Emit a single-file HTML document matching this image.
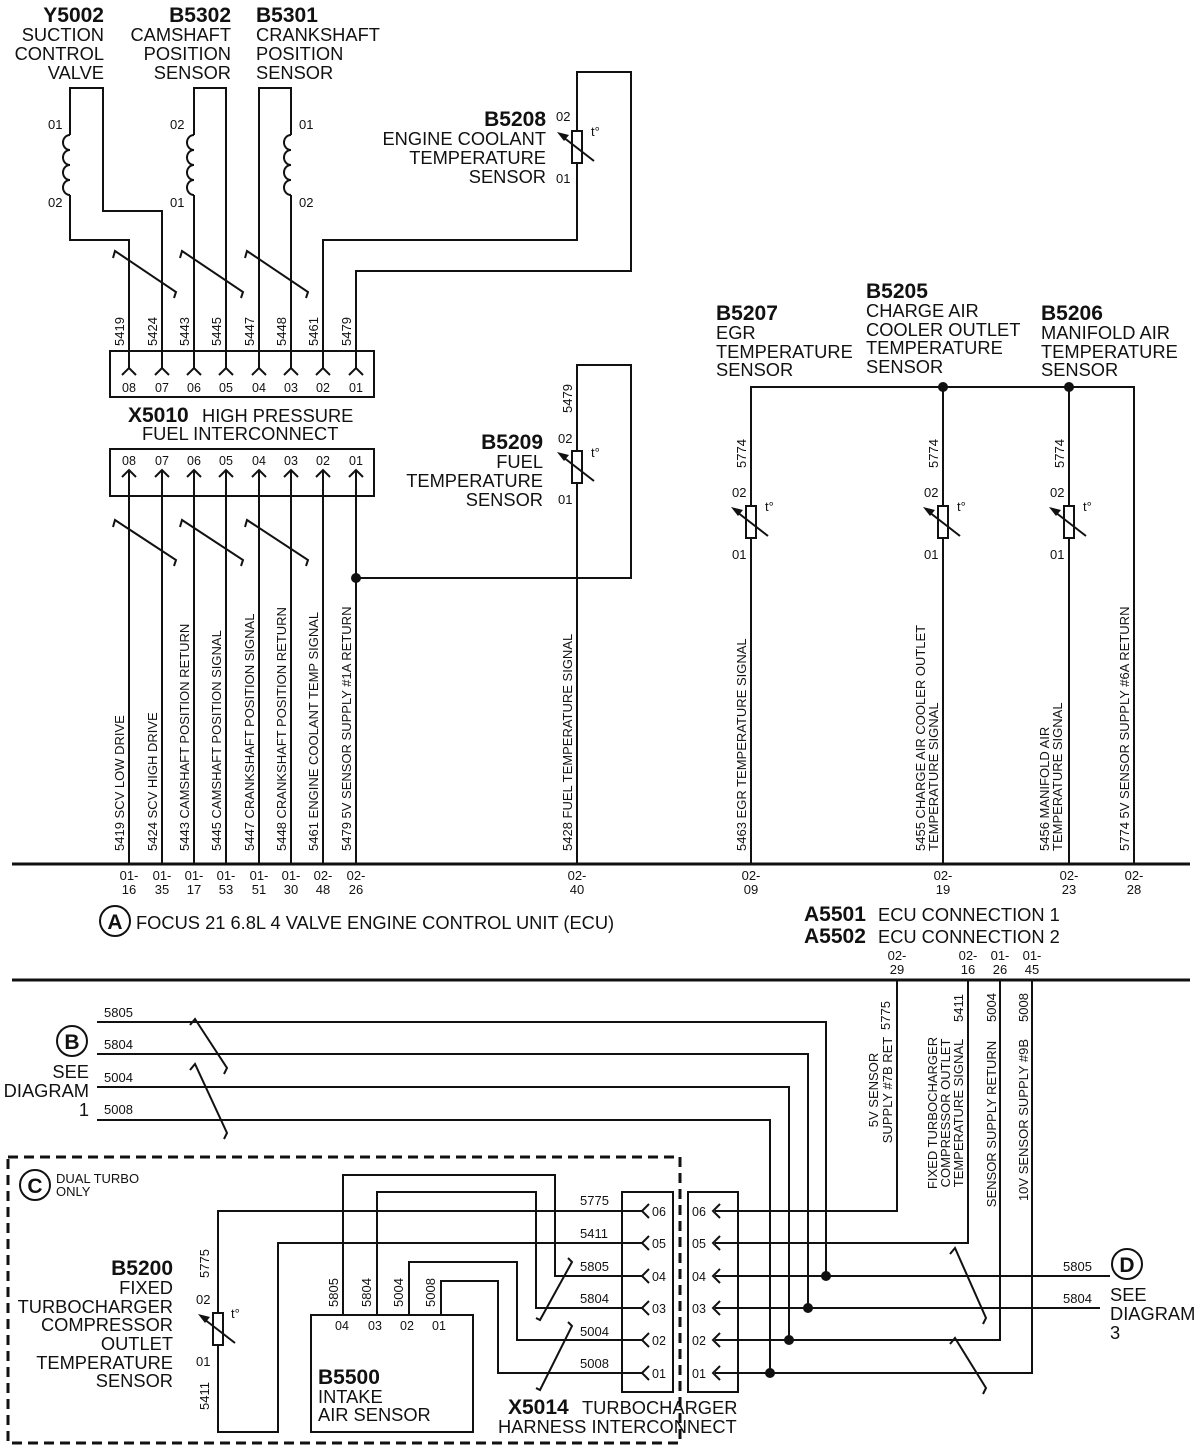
<!DOCTYPE html>
<html><head><meta charset="utf-8"><style>
html,body{margin:0;padding:0;background:#fff}
svg{display:block}
text{font-family:"Liberation Sans",sans-serif;fill:#111}
.b{font-weight:bold;font-size:21px}
.l{font-size:18.3px}
.s{font-size:13px}
.p{font-size:12.5px}
</style></head><body>
<svg width="1200" height="1450" viewBox="0 0 1200 1450" xmlns="http://www.w3.org/2000/svg">
<defs>
<g id="res">
<rect x="-5" y="-16" width="10" height="32" fill="#fff" stroke="#111" stroke-width="2"/>
<line x1="17" y1="14" x2="-14" y2="-10" stroke="#111" stroke-width="2"/>
<polygon points="-20,-15 -8,-12 -13,-6" fill="#111"/>
</g>
<g id="fork"><polyline points="-7,7 0,0 7,7" fill="none" stroke="#111" stroke-width="2"/></g>
<g id="up"><polyline points="-7,7 0,0 7,7" fill="none" stroke="#111" stroke-width="2"/></g>
<g id="lt"><polyline points="7,-7 0,0 7,7" fill="none" stroke="#111" stroke-width="2"/></g>
</defs>
<g fill="none" stroke="#111" stroke-width="2">
<path d="M70 135 V88 H103 V211 H162 V368"/>
<path d="M70 195 V240 H129 V368"/>
<path d="M194 135 V88 H226 V368"/>
<path d="M194 195 V368"/>
<path d="M291 135 V88 H259 V368"/>
<path d="M291 195 V368"/>
<path d="M323 368 V240 H577 V72 H631 V271 H356 V368"/>
<path d="M70 135 a7 7.5 0 0 0 0 15 a7 7.5 0 0 0 0 15 a7 7.5 0 0 0 0 15 a7 7.5 0 0 0 0 15"/>
<path d="M194 135 a7 7.5 0 0 0 0 15 a7 7.5 0 0 0 0 15 a7 7.5 0 0 0 0 15 a7 7.5 0 0 0 0 15"/>
<path d="M291 135 a7 7.5 0 0 0 0 15 a7 7.5 0 0 0 0 15 a7 7.5 0 0 0 0 15 a7 7.5 0 0 0 0 15"/>
<polyline points="113,258 115,251 176,292 174,298"/>
<polyline points="180,258 182,251 243,292 241,298"/>
<polyline points="245,258 247,251 308,292 306,298"/>
<rect x="110" y="351" width="264" height="46"/>
<rect x="110" y="449" width="264" height="47"/>
<path d="M129 470 V864 M162 470 V864 M194 470 V864 M226 470 V864 M259 470 V864 M291 470 V864 M323 470 V864 M356 470 V864"/>
<path d="M356 578 H631 V365 H577 V864"/>
<polyline points="113,527 115,520 176,560 174,566"/>
<polyline points="180,527 182,520 243,560 241,566"/>
<polyline points="245,527 247,520 308,560 306,566"/>
<path d="M751 864 V387 H1134 V864 M943 387 V864 M1069 387 V864"/>
<path d="M12 864 H1190 M12 980 H1190" stroke-width="3"/>
<path d="M97 1022 H826 V1276 M97 1054 H808 V1308 M97 1087 H789 V1340 M97 1120 H770 V1373"/>
<path d="M897 980 V1211 H715 M968 980 V1243 H715 M1000 980 V1340 H715 M1032 980 V1373 H715"/>
<path d="M715 1276 H1110 M715 1308 H1100"/>
<polyline points="190,1025 195,1019 227,1068 224,1074"/>
<polyline points="190,1070 195,1064 227,1133 224,1139"/>
<polyline points="950,1254 955,1248 986,1318 983,1324"/>
<polyline points="950,1344 955,1338 986,1388 983,1394"/>
<rect x="622" y="1192" width="51" height="200"/>
<rect x="688" y="1192" width="50" height="200"/>
<path d="M642 1211 H218 V1313 M218 1345 V1432 H278 V1243 H642"/>
<path d="M642 1276 H555 V1175 H343 V1315 M642 1308 H536 V1192 H377 V1315 M642 1340 H517 V1262 H409 V1315 M642 1373 H498 V1281 H441 V1315"/>
<polyline points="568,1258 572,1262 540,1320 536,1318"/>
<polyline points="568,1322 572,1326 540,1390 536,1388"/>
<rect x="311" y="1315" width="162" height="117"/>
<path d="M8 1157 H680 V1443 H8 Z" stroke-width="3" stroke-dasharray="10,6"/>
<circle cx="115" cy="921" r="15"/>
<circle cx="72" cy="1041" r="15"/>
<circle cx="35" cy="1185" r="15"/>
<circle cx="1127" cy="1264" r="15"/>
</g>
<use href="#fork" x="129" y="368"/><use href="#fork" x="162" y="368"/><use href="#fork" x="194" y="368"/><use href="#fork" x="226" y="368"/><use href="#fork" x="259" y="368"/><use href="#fork" x="291" y="368"/><use href="#fork" x="323" y="368"/><use href="#fork" x="356" y="368"/>
<use href="#up" x="129" y="470"/><use href="#up" x="162" y="470"/><use href="#up" x="194" y="470"/><use href="#up" x="226" y="470"/><use href="#up" x="259" y="470"/><use href="#up" x="291" y="470"/><use href="#up" x="323" y="470"/><use href="#up" x="356" y="470"/>
<use href="#lt" x="642" y="1211"/><use href="#lt" x="642" y="1243"/><use href="#lt" x="642" y="1276"/><use href="#lt" x="642" y="1308"/><use href="#lt" x="642" y="1340"/><use href="#lt" x="642" y="1373"/>
<use href="#lt" x="713" y="1211"/><use href="#lt" x="713" y="1243"/><use href="#lt" x="713" y="1276"/><use href="#lt" x="713" y="1308"/><use href="#lt" x="713" y="1340"/><use href="#lt" x="713" y="1373"/>
<use href="#res" x="577" y="147"/><use href="#res" x="577" y="467"/>
<use href="#res" x="751" y="522"/><use href="#res" x="943" y="522"/><use href="#res" x="1069" y="522"/>
<use href="#res" x="218" y="1329"/>
<g fill="#111"><circle cx="356" cy="578" r="5"/><circle cx="943" cy="387" r="5"/><circle cx="1069" cy="387" r="5"/>
<circle cx="826" cy="1276" r="5"/><circle cx="808" cy="1308" r="5"/><circle cx="789" cy="1340" r="5"/><circle cx="770" cy="1373" r="5"/></g>

<g text-anchor="end"><text x="104" y="22" class="b">Y5002</text><text x="104" y="41" class="l">SUCTION</text><text x="104" y="60" class="l">CONTROL</text><text x="104" y="79" class="l">VALVE</text>
<text x="231" y="22" class="b">B5302</text><text x="231" y="41" class="l">CAMSHAFT</text><text x="231" y="60" class="l">POSITION</text><text x="231" y="79" class="l">SENSOR</text></g>
<text x="256" y="22" class="b">B5301</text><text x="256" y="41" class="l">CRANKSHAFT</text><text x="256" y="60" class="l">POSITION</text><text x="256" y="79" class="l">SENSOR</text>
<g class="s"><text x="48" y="129">01</text><text x="48" y="207">02</text><text x="170" y="129">02</text><text x="170" y="207">01</text><text x="299" y="129">01</text><text x="299" y="207">02</text></g>
<g text-anchor="end"><text x="546" y="126" class="b">B5208</text><text x="546" y="145" class="l">ENGINE COOLANT</text><text x="546" y="164" class="l">TEMPERATURE</text><text x="546" y="183" class="l">SENSOR</text>
<text x="543" y="449" class="b">B5209</text><text x="543" y="468" class="l">FUEL</text><text x="543" y="487" class="l">TEMPERATURE</text><text x="543" y="506" class="l">SENSOR</text></g>
<g class="s"><text x="556" y="121">02</text><text x="556" y="183">01</text><text x="558" y="443">02</text><text x="558" y="504">01</text>
<text x="591" y="136">t°</text><text x="591" y="457">t°</text><text x="765" y="511">t°</text><text x="957" y="511">t°</text><text x="1083" y="511">t°</text><text x="231" y="1318">t°</text></g>
<g class="s">
<text transform="translate(124,346) rotate(-90)">5419</text><text transform="translate(157,346) rotate(-90)">5424</text><text transform="translate(189,346) rotate(-90)">5443</text><text transform="translate(221,346) rotate(-90)">5445</text><text transform="translate(254,346) rotate(-90)">5447</text><text transform="translate(286,346) rotate(-90)">5448</text><text transform="translate(318,346) rotate(-90)">5461</text><text transform="translate(351,346) rotate(-90)">5479</text>
<text transform="translate(572,413) rotate(-90)">5479</text>
</g>
<g class="p" text-anchor="middle"><text x="129" y="392">08</text><text x="162" y="392">07</text><text x="194" y="392">06</text><text x="226" y="392">05</text><text x="259" y="392">04</text><text x="291" y="392">03</text><text x="323" y="392">02</text><text x="356" y="392">01</text>
<text x="129" y="465">08</text><text x="162" y="465">07</text><text x="194" y="465">06</text><text x="226" y="465">05</text><text x="259" y="465">04</text><text x="291" y="465">03</text><text x="323" y="465">02</text><text x="356" y="465">01</text></g>
<text x="128" y="422" class="b">X5010</text><text x="202" y="422" class="l">HIGH PRESSURE</text>
<text x="142" y="440" class="l">FUEL INTERCONNECT</text>
<g class="s">
<text transform="translate(124,851) rotate(-90)">5419 SCV LOW DRIVE</text>
<text transform="translate(157,851) rotate(-90)">5424 SCV HIGH DRIVE</text>
<text transform="translate(189,851) rotate(-90)">5443 CAMSHAFT POSITION RETURN</text>
<text transform="translate(221,851) rotate(-90)">5445 CAMSHAFT POSITION SIGNAL</text>
<text transform="translate(254,851) rotate(-90)">5447 CRANKSHAFT POSITION SIGNAL</text>
<text transform="translate(286,851) rotate(-90)">5448 CRANKSHAFT POSITION RETURN</text>
<text transform="translate(318,851) rotate(-90)">5461 ENGINE COOLANT TEMP SIGNAL</text>
<text transform="translate(351,851) rotate(-90)">5479 5V SENSOR SUPPLY #1A RETURN</text>
<text transform="translate(572,851) rotate(-90)">5428 FUEL TEMPERATURE SIGNAL</text>
<text transform="translate(746,851) rotate(-90)">5463 EGR TEMPERATURE SIGNAL</text>
<text transform="translate(925,851) rotate(-90)">5455 CHARGE AIR COOLER OUTLET</text>
<text transform="translate(938,851) rotate(-90)">TEMPERATURE SIGNAL</text>
<text transform="translate(1049,851) rotate(-90)">5456 MANIFOLD AIR</text>
<text transform="translate(1062,851) rotate(-90)">TEMPERATURE SIGNAL</text>
<text transform="translate(1129,851) rotate(-90)">5774 5V SENSOR SUPPLY #6A RETURN</text>
<text transform="translate(746,468) rotate(-90)">5774</text><text transform="translate(938,468) rotate(-90)">5774</text><text transform="translate(1064,468) rotate(-90)">5774</text>
</g>
<g class="s"><text x="732" y="497">02</text><text x="732" y="559">01</text><text x="924" y="497">02</text><text x="924" y="559">01</text><text x="1050" y="497">02</text><text x="1050" y="559">01</text></g>
<text x="716" y="320" class="b">B5207</text><text x="716" y="339" class="l">EGR</text><text x="716" y="358" class="l">TEMPERATURE</text><text x="716" y="376" class="l">SENSOR</text>
<text x="866" y="298" class="b">B5205</text><text x="866" y="317" class="l">CHARGE AIR</text><text x="866" y="336" class="l">COOLER OUTLET</text><text x="866" y="354" class="l">TEMPERATURE</text><text x="866" y="373" class="l">SENSOR</text>
<text x="1041" y="320" class="b">B5206</text><text x="1041" y="339" class="l">MANIFOLD AIR</text><text x="1041" y="358" class="l">TEMPERATURE</text><text x="1041" y="376" class="l">SENSOR</text>
<g class="s" text-anchor="middle">
<text x="129" y="880">01-</text><text x="129" y="894">16</text><text x="162" y="880">01-</text><text x="162" y="894">35</text><text x="194" y="880">01-</text><text x="194" y="894">17</text><text x="226" y="880">01-</text><text x="226" y="894">53</text><text x="259" y="880">01-</text><text x="259" y="894">51</text><text x="291" y="880">01-</text><text x="291" y="894">30</text><text x="323" y="880">02-</text><text x="323" y="894">48</text><text x="356" y="880">02-</text><text x="356" y="894">26</text>
<text x="577" y="880">02-</text><text x="577" y="894">40</text><text x="751" y="880">02-</text><text x="751" y="894">09</text><text x="943" y="880">02-</text><text x="943" y="894">19</text><text x="1069" y="880">02-</text><text x="1069" y="894">23</text><text x="1134" y="880">02-</text><text x="1134" y="894">28</text>
<text x="897" y="960">02-</text><text x="897" y="974">29</text><text x="968" y="960">02-</text><text x="968" y="974">16</text><text x="1000" y="960">01-</text><text x="1000" y="974">26</text><text x="1032" y="960">01-</text><text x="1032" y="974">45</text>
</g>
<text x="115" y="929" class="b" text-anchor="middle">A</text>
<text x="136" y="929" class="l">FOCUS 21 6.8L 4 VALVE ENGINE CONTROL UNIT (ECU)</text>
<text x="804" y="921" class="b">A5501</text><text x="878" y="921" class="l">ECU CONNECTION 1</text>
<text x="804" y="943" class="b">A5502</text><text x="878" y="943" class="l">ECU CONNECTION 2</text>
<g class="s"><text x="104" y="1017">5805</text><text x="104" y="1049">5804</text><text x="104" y="1082">5004</text><text x="104" y="1114">5008</text>
<text x="580" y="1205">5775</text><text x="580" y="1238">5411</text><text x="580" y="1271">5805</text><text x="580" y="1303">5804</text><text x="580" y="1336">5004</text><text x="580" y="1368">5008</text>
<text x="1063" y="1271">5805</text><text x="1063" y="1303">5804</text></g>
<g class="p"><text x="652" y="1216">06</text><text x="652" y="1248">05</text><text x="652" y="1281">04</text><text x="652" y="1313">03</text><text x="652" y="1345">02</text><text x="652" y="1378">01</text>
<text x="692" y="1216">06</text><text x="692" y="1248">05</text><text x="692" y="1281">04</text><text x="692" y="1313">03</text><text x="692" y="1345">02</text><text x="692" y="1378">01</text>
<text x="335" y="1330">04</text><text x="368" y="1330">03</text><text x="400" y="1330">02</text><text x="432" y="1330">01</text></g>
<text x="72" y="1049" class="b" text-anchor="middle">B</text>
<g text-anchor="end" class="l"><text x="89" y="1078">SEE</text><text x="89" y="1097">DIAGRAM</text><text x="89" y="1116">1</text></g>
<text x="35" y="1193" class="b" text-anchor="middle">C</text>
<text x="56" y="1183" class="s">DUAL TURBO</text><text x="56" y="1196" class="s">ONLY</text>
<text x="1127" y="1272" class="b" text-anchor="middle">D</text>
<text x="1110" y="1301" class="l">SEE</text><text x="1110" y="1320" class="l">DIAGRAM</text><text x="1110" y="1339" class="l">3</text>
<g text-anchor="end"><text x="173" y="1275" class="b">B5200</text><text x="173" y="1294" class="l">FIXED</text><text x="173" y="1313" class="l">TURBOCHARGER</text><text x="173" y="1331" class="l">COMPRESSOR</text><text x="173" y="1350" class="l">OUTLET</text><text x="173" y="1369" class="l">TEMPERATURE</text><text x="173" y="1387" class="l">SENSOR</text></g>
<g class="s"><text x="196" y="1304">02</text><text x="196" y="1366">01</text>
<text transform="translate(209,1278) rotate(-90)">5775</text><text transform="translate(209,1410) rotate(-90)">5411</text>
<text transform="translate(338,1307) rotate(-90)">5805</text><text transform="translate(371,1307) rotate(-90)">5804</text><text transform="translate(403,1307) rotate(-90)">5004</text><text transform="translate(435,1307) rotate(-90)">5008</text>
<text transform="translate(890,1030) rotate(-90)">5775</text><text transform="translate(963,1022) rotate(-90)">5411</text><text transform="translate(996,1022) rotate(-90)">5004</text><text transform="translate(1028,1022) rotate(-90)">5008</text>
</g>
<g class="s" text-anchor="middle">
<text transform="translate(878,1090) rotate(-90)">5V SENSOR</text><text transform="translate(892,1090) rotate(-90)">SUPPLY #7B RET</text>
<text transform="translate(937,1113) rotate(-90)">FIXED TURBOCHARGER</text><text transform="translate(950,1113) rotate(-90)">COMPRESSOR OUTLET</text><text transform="translate(963,1113) rotate(-90)">TEMPERATURE SIGNAL</text>
<text transform="translate(996,1124) rotate(-90)">SENSOR SUPPLY RETURN</text><text transform="translate(1028,1120) rotate(-90)">10V SENSOR SUPPLY #9B</text>
</g>
<text x="318" y="1384" class="b">B5500</text><text x="318" y="1403" class="l">INTAKE</text><text x="318" y="1421" class="l">AIR SENSOR</text>
<text x="508" y="1414" class="b">X5014</text><text x="582" y="1414" class="l">TURBOCHARGER</text>
<text x="498" y="1433" class="l">HARNESS INTERCONNECT</text>
</svg>
</body></html>
